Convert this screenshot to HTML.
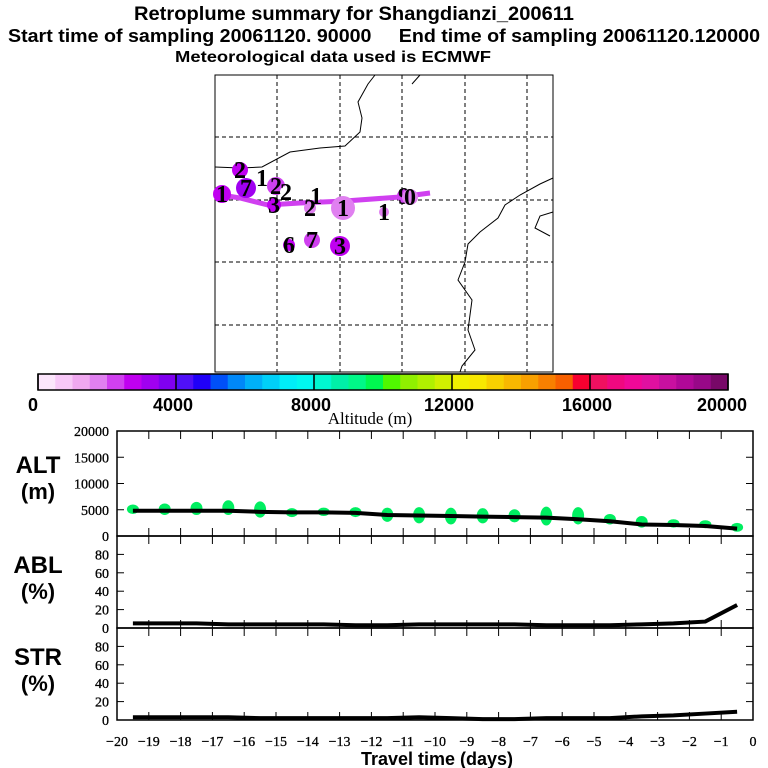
<!DOCTYPE html>
<html><head><meta charset="utf-8"><style>
body{margin:0;background:#fff;}
svg{display:block;font-family:"Liberation Sans",sans-serif;}
</style></head><body>
<svg id="c" width="768" height="768" viewBox="0 0 768 768">
<g font-weight="bold" text-anchor="middle">
<text x="354" y="20" font-size="19" textLength="440" lengthAdjust="spacingAndGlyphs">Retroplume summary for Shangdianzi_200611</text>
<text x="384" y="42" font-size="18" textLength="752" lengthAdjust="spacingAndGlyphs">Start time of sampling 20061120. 90000&#160;&#160;&#160;&#160;&#160;End time of sampling 20061120.120000</text>
<text x="333" y="62" font-size="16" textLength="316" lengthAdjust="spacingAndGlyphs">Meteorological data used is ECMWF</text>
</g>
<g id="map"></g>
<g id="cbar"></g>
<g id="panels"></g>
</svg>
<script>
const NS="http://www.w3.org/2000/svg";
const svg=document.getElementById('c');
function mk(t,a,p){const e=document.createElementNS(NS,t);for(const k in a)e.setAttribute(k,a[k]);(p||svg).appendChild(e);return e;}

// ---------- data ----------
const days=[-19.5,-18.5,-17.5,-16.5,-15.5,-14.5,-13.5,-12.5,-11.5,-10.5,-9.5,-8.5,-7.5,-6.5,-5.5,-4.5,-3.5,-2.5,-1.5,-0.5];
const altMean=[4800,4800,4800,4800,4600,4500,4500,4400,4000,3900,3800,3700,3600,3500,3200,2800,2200,2100,1900,1400];
const ablPct=[5,5,5,4,4,4,4,3,3,4,4,4,4,3,3,3,4,5,7,25];
const strPct=[3,3,3,3,2,2,2,2,2,3,2,1,1,2,2,2,4,5,7,9];
const altClusterHi=[6000,6200,6500,6800,6600,5300,5400,5500,5400,5500,5400,5300,5100,5600,5500,4200,3800,3200,3000,2500];
const altClusterLo=[4200,4000,4000,4000,3500,3600,3800,3600,2700,2400,2200,2400,2600,2000,2200,2200,1600,1600,1500,800];
const xTicks=[-20,-19,-18,-17,-16,-15,-14,-13,-12,-11,-10,-9,-8,-7,-6,-5,-4,-3,-2,-1,0];
const altTicks=[0,5000,10000,15000,20000];
const pctTicks=[0,20,40,60,80];
const cbarColors=["#fce6fc","#f8c8f8","#f0a8f0","#e080f0","#d040f0","#c000f0","#a000f0","#8000f0","#5010f8","#2000f8","#0050f8","#0088f8","#00b0f8","#00d0f8","#00eef8","#00f8f0","#00f8d0","#00f0a8","#00f888","#00f850","#50f800","#90f000","#b0f000","#d0f000","#f0f000","#f8e800","#f8d000","#f8b800","#f8a000","#f88000","#f86000","#f80030","#f01060","#f00880","#f00898","#e010a0","#c810a0","#b00898","#980888","#780868"];
const cbarLabels=[0,4000,8000,12000,16000,20000];

// ---------- axes ----------
const X0=117,X1=753;
const xs=d=>X0+(d+20)/20*(X1-X0);
const yAlt=v=>536-v/20000*105;
const yAbl=v=>628-v/100*92;
const yStr=v=>720-v/100*92;

// ---------- map ----------
const map=document.getElementById('map');
mk('rect',{x:215,y:75,width:338,height:297,fill:'none',stroke:'#000','stroke-width':1},map);
[277,340,402,465,527].forEach(x=>mk('line',{x1:x,y1:75,x2:x,y2:372,stroke:'#000','stroke-dasharray':'4,3','stroke-width':1},map));
[137,200,262,325].forEach(y=>mk('line',{x1:215,y1:y,x2:553,y2:y,stroke:'#000','stroke-dasharray':'4,3','stroke-width':1},map));
mk('path',{d:'M215,167 L240,168 L262,167 L290,152 L320,148 L345,146 L360,132 L362,118 L358,102 L368,84 L375,75',fill:'none',stroke:'#000'},map);
mk('path',{d:'M420,75 L412,84',fill:'none',stroke:'#000'},map);
mk('path',{d:'M553,178 L540,184 L520,195 L505,205 L498,218 L480,232 L468,244 L465,262 L458,280 L472,300 L468,330 L475,350 L462,366 L460,372',fill:'none',stroke:'#000'},map);
mk('path',{d:'M553,212 L540,216 L535,228 L550,236',fill:'none',stroke:'#000'},map);
mk('path',{d:'M215,194 L240,198 L268,205 L300,203 L345,201 L400,197 L430,193',fill:'none',stroke:'#d040f0','stroke-width':5},map);
const blobs=[[222,194,9,'#c000f0','1'],[240,170,8,'#c000f0','2'],[246,188,10,'#a000f0','7'],[262,178,5,'#fff','1'],[276,186,9,'#d040f0','2'],[286,192,6,'#fff','2'],[274,205,7,'#c000f0','3'],[310,208,6,'#e080f0','2'],[316,196,5,'#fff','1'],[343,208,12,'#e080f0','1'],[384,212,5,'#e080f0','1'],[404,196,7,'#d040f0','9'],[410,197,8,'#e080f0','0'],[289,245,6,'#c000f0','6'],[312,240,8,'#d040f0','7'],[340,246,10,'#c000f0','3']];
blobs.forEach(b=>{mk('circle',{cx:b[0],cy:b[1],r:b[2],fill:b[3]},map);const t=mk('text',{x:b[0],y:b[1]+8,'font-size':24,'font-weight':'bold','text-anchor':'middle','font-family':'Liberation Serif'},map);t.textContent=b[4];});

// ---------- colorbar ----------
const cb=document.getElementById('cbar');
const CB0=38,CB1=728,cw=(CB1-CB0)/cbarColors.length;
cbarColors.forEach((c,i)=>{const r=mk('rect',{x:CB0+i*cw,y:374,width:cw+0.5,height:16,fill:c},cb);});
mk('rect',{x:CB0,y:374,width:CB1-CB0,height:16,fill:'none',stroke:'#000','stroke-width':1.5},cb);
cbarLabels.forEach(v=>{const x=CB0+v/20000*(CB1-CB0);mk('line',{x1:x,y1:374,x2:x,y2:390,stroke:'#000','stroke-width':1.5},cb);const t=mk('text',{x:v===0?33:(v===20000?722:x-3),y:411,'font-size':18,'font-weight':'bold','text-anchor':'middle'},cb);t.textContent=v;});
{const t=mk('text',{x:370,y:424,'font-size':17,'text-anchor':'middle','font-family':'Liberation Serif'},cb);t.textContent='Altitude (m)';}

// ---------- panels ----------
const P=document.getElementById('panels');
function panel(top,bot,ticks,ysc,name,l1,l2){
  const g=mk('g',{},P);
  mk('rect',{x:X0,y:top,width:X1-X0,height:bot-top,fill:'none',stroke:'#000','stroke-width':1.5},g);
  xTicks.forEach(d=>{const x=xs(d);mk('line',{x1:x,y1:top,x2:x,y2:top+8,stroke:'#000'},g);mk('line',{x1:x,y1:bot,x2:x,y2:bot-8,stroke:'#000'},g);});
  ticks.forEach(v=>{const y=ysc(v);mk('line',{x1:X0,y1:y,x2:X0+7,y2:y,stroke:'#000'},g);mk('line',{x1:X1,y1:y,x2:X1-7,y2:y,stroke:'#000'},g);const t=mk('text',{x:X0-8,y:y+5,'font-size':14,'text-anchor':'end','font-family':'Liberation Serif','stroke':'#000','stroke-width':0.3},g);t.textContent=v;});
  const a=mk('text',{x:38,y:top+(bot-top)*0.40,'font-size':24,'font-weight':'bold','text-anchor':'middle'},g);a.textContent=l1;
  const b=mk('text',{x:38,y:top+(bot-top)*0.40+26,'font-size':22,'font-weight':'bold','text-anchor':'middle'},g);b.textContent=l2;
  return g;
}
const gA=panel(431,536,altTicks,yAlt,'alt','ALT','(m)');
const gB=panel(536,628,pctTicks,yAbl,'abl','ABL','(%)');
const gS=panel(628,720,pctTicks,yStr,'str','STR','(%)');
days.forEach((d,i)=>{
  const x=xs(d),yh=yAlt(altClusterHi[i]),yl=yAlt(altClusterLo[i]);
  const e=mk('ellipse',{cx:x,cy:(yh+yl)/2,rx:6,ry:Math.max(4,(yl-yh)/2),fill:'#00ee60'},gA);
  
});
function line(g,arr,ysc,name){const p=mk('polyline',{points:days.map((d,i)=>xs(d)+','+ysc(arr[i])).join(' '),fill:'none',stroke:'#000','stroke-width':4},g);}
line(gA,altMean,yAlt,'alt-mean-line');
line(gB,ablPct,yAbl,'abl-line');
line(gS,strPct,yStr,'str-line');
xTicks.forEach(d=>{const t=mk('text',{x:xs(d),y:746,'font-size':14,'text-anchor':'middle','font-family':'Liberation Serif','stroke':'#000','stroke-width':0.3});t.textContent=d===0?'0':'\u2212'+(-d);});
{const t=mk('text',{x:437,y:765,'font-size':18,'font-weight':'bold','text-anchor':'middle'});t.textContent='Travel time (days)';}
</script>
</body></html>
